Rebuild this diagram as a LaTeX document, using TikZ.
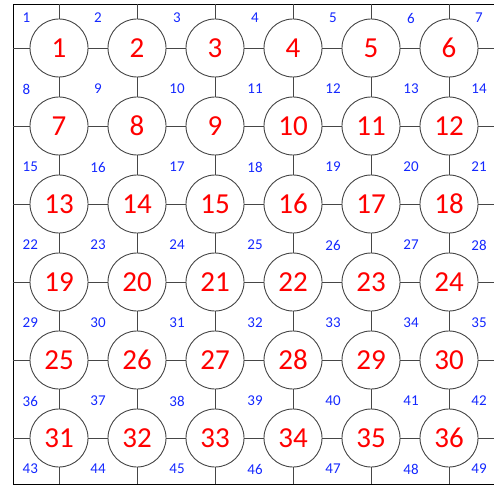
\documentclass[tikz,border=0pt]{standalone}
\usepackage{fontspec}
\setmainfont{Carlito}
\definecolor{lblue}{RGB}{20,40,255}
\definecolor{lgrid}{RGB}{70,70,70}
\begin{document}
\begin{tikzpicture}[x=1pt,y=-1pt,
  cell/.style={circle,draw=lgrid,line width=0.9pt,fill=white,minimum size=58pt,inner sep=0pt,text=red,font=\fontsize{29}{31}\selectfont},
  lab/.style={text=lblue,font=\fontsize{15}{17}\selectfont,inner sep=0pt},
  link/.style={draw=lgrid,line width=0.7pt},
  frame/.style={draw=black,line width=0.8pt}]
\useasboundingbox (0,0) rectangle (494,486);
% frame
\coordinate (tl) at (13,4);
\coordinate (tr) at (494,4);
\coordinate (bl) at (13,484);
\coordinate (br) at (494,484);
\draw[frame] (tr) -- (tl) -- (bl) -- (br);
% circles
\foreach \r in {0,...,5}{
  \foreach \c in {0,...,5}{
    \pgfmathtruncatemacro{\n}{6*\r+\c+1}
    \node[cell] (c\n) at ({59+78*\c},{48+78*\r}) {\n};
  }
}
% border coordinates
\foreach \c in {0,...,5}{
  \pgfmathtruncatemacro{\n}{\c+1}
  \coordinate (t\n) at ({59+78*\c},4);
  \coordinate (b\n) at ({59+78*\c},484);
}
\foreach \r in {0,...,5}{
  \pgfmathtruncatemacro{\n}{\r+1}
  \coordinate (l\n) at (13,{48+78*\r});
  \coordinate (r\n) at (494,{48+78*\r});
}
% links
\foreach \r in {0,...,5}{
  \pgfmathtruncatemacro{\k}{\r+1}
  \pgfmathtruncatemacro{\first}{6*\r+1}
  \pgfmathtruncatemacro{\last}{6*\r+6}
  \draw[link] (l\k) -- (c\first);
  \draw[link] (c\last) -- (r\k);
  \foreach \c in {0,...,4}{
    \pgfmathtruncatemacro{\n}{6*\r+\c+1}
    \pgfmathtruncatemacro{\m}{\n+1}
    \draw[link] (c\n) -- (c\m);
  }
}
\foreach \c in {0,...,5}{
  \pgfmathtruncatemacro{\k}{\c+1}
  \pgfmathtruncatemacro{\bot}{30+\c+1}
  \draw[link] (t\k) -- (c\k);
  \draw[link] (c\bot) -- (b\k);
  \foreach \r in {0,...,4}{
    \pgfmathtruncatemacro{\n}{6*\r+\c+1}
    \pgfmathtruncatemacro{\m}{\n+6}
    \draw[link] (c\n) -- (c\m);
  }
}
% labels
\foreach \r/\y in {0/18,1/89,2/167,3/245,4/323,5/401,6/469}{
  \pgfmathtruncatemacro{\n}{7*\r+1}
  \node[lab,anchor=west] (n\n) at (22.5,\y) {\n};
  \foreach \c/\x in {1/98,2/177,3/255,4/333,5/411,6/479}{
    \pgfmathtruncatemacro{\m}{7*\r+\c+1}
    \node[lab] (n\m) at (\x,\y) {\m};
  }
}
\end{tikzpicture}
\end{document}
